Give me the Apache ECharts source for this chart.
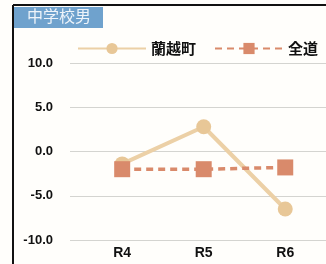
<!DOCTYPE html>
<html lang="ja">
<head>
  <meta charset="UTF-8">
  <title>中学校男</title>
  <style>
    html, body { margin: 0; padding: 0; background: #fffefb; }
  </style>
</head>
<body>
  <div id="main" style="width: 326px;height:264px;"></div>
  <script src="https://cdn.jsdelivr.net/npm/echarts@6.0.0/dist/echarts.min.js"></script>
  <script type="text/javascript">
    // data
    var categories = ['R4', 'R5', 'R6'];
    var ranKoshi = [-1.4, 2.8, -6.5];
    var zendo = [-2.0, -2.0, -1.8];
    var yTicks = [-10, -5, 0, 5, 10];

    var myChart = echarts.init(document.getElementById('main'));

    function toPairs(arr) {
      return arr.map(function (v, i) { return [i, v]; });
    }

    var option = {
      backgroundColor: '#fffefb',
      animation: false,
      textStyle: { fontFamily: 'Liberation Sans, Noto Sans CJK JP' },
      graphic: [
        { type: 'line', shape: { x1: 13, y1: 5, x2: 326, y2: 5 }, style: { stroke: '#111', lineWidth: 2 } },
        { type: 'line', shape: { x1: 13, y1: 5, x2: 13, y2: 264 }, style: { stroke: '#111', lineWidth: 2 } },
        { type: 'rect', shape: { x: 14, y: 7, width: 89, height: 21 }, style: { fill: '#6fa2cd' } },
        {
          type: 'text', left: 27, top: 8,
          style: { text: '中学校男', fill: '#eef4fa', font: '16px "Noto Sans CJK JP"' }
        }
      ],
      legend: {
        top: 36,
        left: 72,
        itemWidth: 68,
        itemHeight: 14,
        itemGap: 18,
        textStyle: { color: '#111', fontSize: 15, fontWeight: 'bold', fontFamily: 'Noto Sans CJK JP' },
        data: ['蘭越町', '全道']
      },
      grid: { left: 70, right: 0, top: 63, bottom: 24 },
      xAxis: {
        type: 'value',
        min: -0.64,
        max: 2.5,
        axisLine: { show: false },
        axisTick: { show: false },
        splitLine: { show: false },
        axisLabel: {
          customValues: [0, 1, 2],
          formatter: function (v) { return categories[Math.round(v)]; },
          color: '#111',
          fontSize: 14,
          fontWeight: 'bold',
          margin: 6
        }
      },
      yAxis: {
        type: 'value',
        min: yTicks[0],
        max: yTicks[yTicks.length - 1],
        interval: 5,
        axisLine: { show: false },
        axisTick: { show: false },
        axisLabel: {
          color: '#111',
          fontSize: 13,
          fontWeight: 'bold',
          margin: 17,
          formatter: function (v) { return v.toFixed(1); }
        },
        splitLine: { lineStyle: { color: '#d4d4d0', width: 1 } }
      },
      series: [
        {
          name: '蘭越町',
          type: 'line',
          data: toPairs(ranKoshi),
          symbol: 'circle',
          symbolSize: 15,
          lineStyle: { color: '#ecd0a6', width: 4 },
          itemStyle: { color: '#e8c797' },
          z: 2
        },
        {
          name: '全道',
          type: 'line',
          data: toPairs(zendo),
          symbol: 'rect',
          symbolSize: 16,
          lineStyle: { color: '#d98a6b', width: 3.5, type: [7, 5] },
          itemStyle: { color: '#d98a6b' },
          z: 3
        }
      ]
    };

    myChart.setOption(option);
  </script>
</body>
</html>
